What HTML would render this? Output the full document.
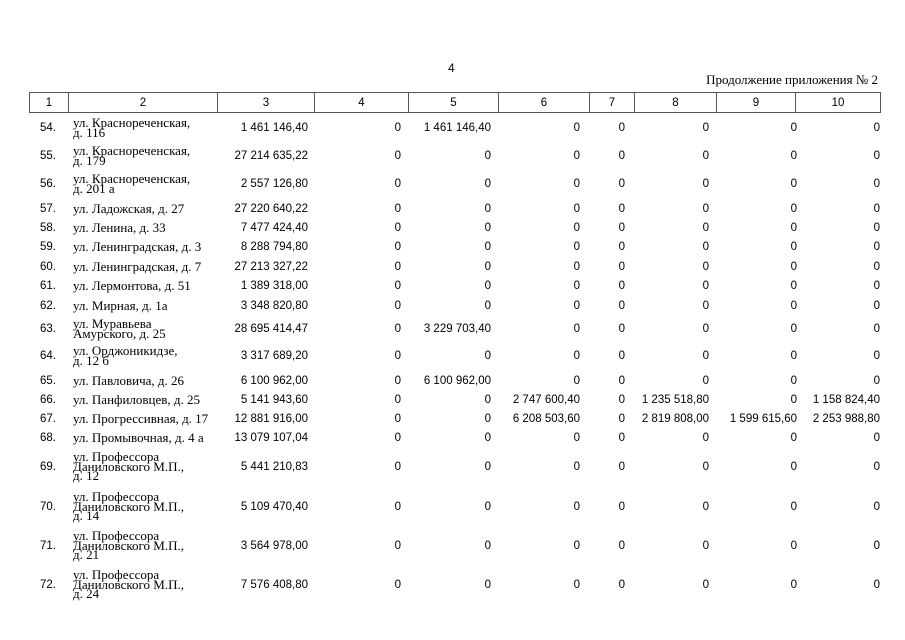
<!DOCTYPE html>
<html><head><meta charset="utf-8"><style>
body{margin:0;background:#fff;width:905px;height:640px;position:relative;overflow:hidden;font-family:"Liberation Sans",sans-serif;font-size:11.5px;color:#000}
.ab{position:absolute}
.r{position:absolute;left:0;width:905px;height:14px;line-height:14px}
.r span{position:absolute;white-space:nowrap}
.a{left:40px}
.r span.n{left:73px;font-family:"Liberation Serif",serif;font-size:13px;line-height:9.5px}
.n1{top:2px}.n2{top:-3px}.n3{top:-8px}
.c3{right:597px}.c4{right:504px}.c5{right:414px}.c6{right:325px}.c7{right:280px}.c8{right:196px}.c9{right:108px}.c10{right:25px}
table{position:absolute;left:29px;top:92px;border-collapse:collapse}
td{border:1px solid #555;height:19px;padding:0;text-align:center;font-size:11.5px}
</style></head><body>
<div class="ab" style="left:448px;top:61px;font-size:12px">4</div>
<div class="ab" style="right:27px;top:72px;font-family:'Liberation Serif',serif;font-size:13px">Продолжение приложения № 2</div>
<table><tr>
<td style="width:38px">1</td><td style="width:148px">2</td><td style="width:96px">3</td><td style="width:93px">4</td><td style="width:89px">5</td><td style="width:90px">6</td><td style="width:44px">7</td><td style="width:81px">8</td><td style="width:78px">9</td><td style="width:84px">10</td></tr></table>

<div class="r" style="top:121px"><span class="a">54.</span><span class="n n2">ул. Краснореченская,<br>д. 116</span><span class="c3">1 461 146,40</span><span class="c4">0</span><span class="c5">1 461 146,40</span><span class="c6">0</span><span class="c7">0</span><span class="c8">0</span><span class="c9">0</span><span class="c10">0</span></div>
<div class="r" style="top:149px"><span class="a">55.</span><span class="n n2">ул. Краснореченская,<br>д. 179</span><span class="c3">27 214 635,22</span><span class="c4">0</span><span class="c5">0</span><span class="c6">0</span><span class="c7">0</span><span class="c8">0</span><span class="c9">0</span><span class="c10">0</span></div>
<div class="r" style="top:177px"><span class="a">56.</span><span class="n n2">ул. Краснореченская,<br>д. 201 а</span><span class="c3">2 557 126,80</span><span class="c4">0</span><span class="c5">0</span><span class="c6">0</span><span class="c7">0</span><span class="c8">0</span><span class="c9">0</span><span class="c10">0</span></div>
<div class="r" style="top:202px"><span class="a">57.</span><span class="n n1">ул. Ладожская, д. 27</span><span class="c3">27 220 640,22</span><span class="c4">0</span><span class="c5">0</span><span class="c6">0</span><span class="c7">0</span><span class="c8">0</span><span class="c9">0</span><span class="c10">0</span></div>
<div class="r" style="top:221px"><span class="a">58.</span><span class="n n1">ул. Ленина, д. 33</span><span class="c3">7 477 424,40</span><span class="c4">0</span><span class="c5">0</span><span class="c6">0</span><span class="c7">0</span><span class="c8">0</span><span class="c9">0</span><span class="c10">0</span></div>
<div class="r" style="top:240px"><span class="a">59.</span><span class="n n1">ул. Ленинградская, д. 3</span><span class="c3">8 288 794,80</span><span class="c4">0</span><span class="c5">0</span><span class="c6">0</span><span class="c7">0</span><span class="c8">0</span><span class="c9">0</span><span class="c10">0</span></div>
<div class="r" style="top:260px"><span class="a">60.</span><span class="n n1">ул. Ленинградская, д. 7</span><span class="c3">27 213 327,22</span><span class="c4">0</span><span class="c5">0</span><span class="c6">0</span><span class="c7">0</span><span class="c8">0</span><span class="c9">0</span><span class="c10">0</span></div>
<div class="r" style="top:279px"><span class="a">61.</span><span class="n n1">ул. Лермонтова, д. 51</span><span class="c3">1 389 318,00</span><span class="c4">0</span><span class="c5">0</span><span class="c6">0</span><span class="c7">0</span><span class="c8">0</span><span class="c9">0</span><span class="c10">0</span></div>
<div class="r" style="top:299px"><span class="a">62.</span><span class="n n1">ул. Мирная, д. 1а</span><span class="c3">3 348 820,80</span><span class="c4">0</span><span class="c5">0</span><span class="c6">0</span><span class="c7">0</span><span class="c8">0</span><span class="c9">0</span><span class="c10">0</span></div>
<div class="r" style="top:322px"><span class="a">63.</span><span class="n n2">ул. Муравьева<br>Амурского, д. 25</span><span class="c3">28 695 414,47</span><span class="c4">0</span><span class="c5">3 229 703,40</span><span class="c6">0</span><span class="c7">0</span><span class="c8">0</span><span class="c9">0</span><span class="c10">0</span></div>
<div class="r" style="top:349px"><span class="a">64.</span><span class="n n2">ул. Орджоникидзе,<br>д. 12 б</span><span class="c3">3 317 689,20</span><span class="c4">0</span><span class="c5">0</span><span class="c6">0</span><span class="c7">0</span><span class="c8">0</span><span class="c9">0</span><span class="c10">0</span></div>
<div class="r" style="top:374px"><span class="a">65.</span><span class="n n1">ул. Павловича, д. 26</span><span class="c3">6 100 962,00</span><span class="c4">0</span><span class="c5">6 100 962,00</span><span class="c6">0</span><span class="c7">0</span><span class="c8">0</span><span class="c9">0</span><span class="c10">0</span></div>
<div class="r" style="top:393px"><span class="a">66.</span><span class="n n1">ул. Панфиловцев, д. 25</span><span class="c3">5 141 943,60</span><span class="c4">0</span><span class="c5">0</span><span class="c6">2 747 600,40</span><span class="c7">0</span><span class="c8">1 235 518,80</span><span class="c9">0</span><span class="c10">1 158 824,40</span></div>
<div class="r" style="top:412px"><span class="a">67.</span><span class="n n1">ул. Прогрессивная, д. 17</span><span class="c3">12 881 916,00</span><span class="c4">0</span><span class="c5">0</span><span class="c6">6 208 503,60</span><span class="c7">0</span><span class="c8">2 819 808,00</span><span class="c9">1 599 615,60</span><span class="c10">2 253 988,80</span></div>
<div class="r" style="top:431px"><span class="a">68.</span><span class="n n1">ул. Промывочная, д. 4 а</span><span class="c3">13 079 107,04</span><span class="c4">0</span><span class="c5">0</span><span class="c6">0</span><span class="c7">0</span><span class="c8">0</span><span class="c9">0</span><span class="c10">0</span></div>
<div class="r" style="top:460px"><span class="a">69.</span><span class="n n3">ул. Профессора<br>Даниловского М.П.,<br>д. 12</span><span class="c3">5 441 210,83</span><span class="c4">0</span><span class="c5">0</span><span class="c6">0</span><span class="c7">0</span><span class="c8">0</span><span class="c9">0</span><span class="c10">0</span></div>
<div class="r" style="top:500px"><span class="a">70.</span><span class="n n3">ул. Профессора<br>Даниловского М.П.,<br>д. 14</span><span class="c3">5 109 470,40</span><span class="c4">0</span><span class="c5">0</span><span class="c6">0</span><span class="c7">0</span><span class="c8">0</span><span class="c9">0</span><span class="c10">0</span></div>
<div class="r" style="top:539px"><span class="a">71.</span><span class="n n3">ул. Профессора<br>Даниловского М.П.,<br>д. 21</span><span class="c3">3 564 978,00</span><span class="c4">0</span><span class="c5">0</span><span class="c6">0</span><span class="c7">0</span><span class="c8">0</span><span class="c9">0</span><span class="c10">0</span></div>
<div class="r" style="top:578px"><span class="a">72.</span><span class="n n3">ул. Профессора<br>Даниловского М.П.,<br>д. 24</span><span class="c3">7 576 408,80</span><span class="c4">0</span><span class="c5">0</span><span class="c6">0</span><span class="c7">0</span><span class="c8">0</span><span class="c9">0</span><span class="c10">0</span></div>
</body></html>
